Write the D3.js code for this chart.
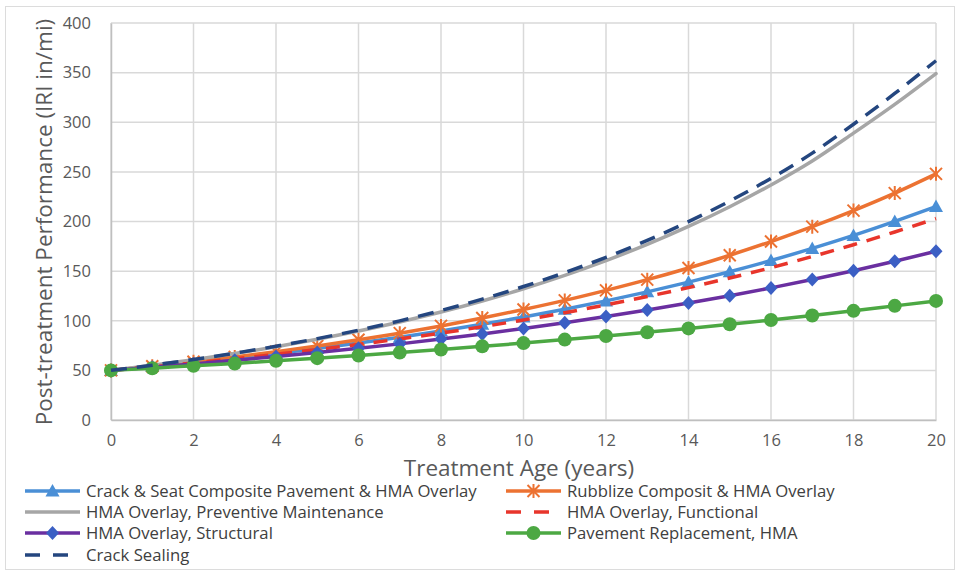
<!DOCTYPE html>
<html><head><meta charset="utf-8">
<script src="https://cdn.jsdelivr.net/npm/d3@7"></script>
<style>body{margin:0;background:#fff;}svg{display:block;font-family:"Open Sans",sans-serif;}</style>
</head><body>
<svg id="c" width="961" height="574"></svg>
<script>
const years = [0,1,2,3,4,5,6,7,8,9,10,11,12,13,14,15,16,17,18,19,20];
const xTicks = [0,2,4,6,8,10,12,14,16,18,20];
const yTicks = [0,50,100,150,200,250,300,350,400];
const crackSeat   = [50,53.8,57.9,62.2,66.9,72,77.5,83.3,89.6,96.4,103.7,111.6,120,129.1,138.9,149.4,160.7,172.9,186,200.1,215];
const rubblize    = [50,54.2,58.7,63.6,68.9,74.6,80.8,87.5,94.8,102.7,111.3,120.5,130.6,141.4,153.2,166,179.8,194.8,211,228.6,248];
const preventive  = [50,55.1,60.7,66.9,73.8,81.3,89.6,98.8,108.8,119.9,132.2,145.7,160.6,176.9,195,214.9,236.8,261,289,318,349];
const functional  = [50,53.6,57.5,61.7,66.2,71,76.1,81.7,87.6,94,100.8,108.1,116,124.4,133.4,143.1,153.5,164.7,176.6,189.4,203];
const structural  = [50,53.2,56.5,60.1,63.9,67.9,72.2,76.7,81.6,86.7,92.2,98,104.2,110.8,117.8,125.2,133.1,141.5,150.4,159.9,170];
const replacement = [50,52.2,54.6,57,59.6,62.3,65,67.9,71,74.2,77.5,81,84.6,88.4,92.3,96.5,100.8,105.3,110,115,120];
const crackSealing= [50,55.2,60.9,67.3,74.3,82,90.5,99.9,110.3,121.8,134.5,148.5,163.9,181,199.8,220.6,243.5,268.9,298,329,362];

const series = [
  {name:"Crack & Seat Composite Pavement & HMA Overlay", values:crackSeat, color:"#4a8fd6", marker:"triangle", dash:null, col:0,row:0},
  {name:"Rubblize Composit & HMA Overlay", values:rubblize, color:"#ec7232", marker:"asterisk", dash:null, col:1,row:0},
  {name:"HMA Overlay, Preventive Maintenance", values:preventive, color:"#a6a6a6", marker:null, dash:null, col:0,row:1},
  {name:"HMA Overlay, Functional", values:functional, color:"#e8352b", marker:null, dash:"14,10", col:1,row:1},
  {name:"HMA Overlay, Structural", values:structural, color:"#6a2fa0", mcolor:"#3b5fc4", marker:"diamond", dash:null, col:0,row:2},
  {name:"Pavement Replacement, HMA", values:replacement, color:"#4ca843", marker:"circle", dash:null, col:1,row:2},
  {name:"Crack Sealing", values:crackSealing, color:"#24467f", marker:null, dash:"16,10", col:0,row:3}
];

const svg = d3.select("#c");
svg.append("rect").attr("x",5.5).attr("y",6.5).attr("width",949).attr("height",563)
  .attr("fill","#fff").attr("stroke","#dcdcdc").attr("stroke-width",1);

const x = d3.scaleLinear().domain([0,20]).range([111,936]);
const y = d3.scaleLinear().domain([0,400]).range([420,23]);

// gridlines
const g = svg.append("g");
g.selectAll(".hg").data(yTicks).join("line")
  .attr("x1",x(0)).attr("x2",x(20)).attr("y1",d=>y(d)).attr("y2",d=>y(d))
  .attr("stroke","#d9d9d9").attr("stroke-width",1.5);
g.selectAll(".vg").data(xTicks).join("line")
  .attr("y1",y(0)).attr("y2",y(400)).attr("x1",d=>x(d)).attr("x2",d=>x(d))
  .attr("stroke","#d9d9d9").attr("stroke-width",1.5);

// axes
const xAxis = d3.axisBottom(x).tickValues(xTicks).tickSize(0).tickPadding(14);
const yAxis = d3.axisLeft(y).tickValues(yTicks).tickSize(0).tickPadding(20);
const ax = svg.append("g").attr("transform",`translate(0,${y(0)})`).call(xAxis);
const ay = svg.append("g").attr("transform",`translate(${x(0)},0)`).call(yAxis);
[ax,ay].forEach(a=>{
  a.select(".domain").attr("stroke","#bfbfbf").attr("stroke-width",1.5);
  a.selectAll("text").attr("fill","#595959").style("font-size","16.5px").style("font-family","'Open Sans',sans-serif");
});

// titles
svg.append("text").attr("x",519).attr("y",476).attr("text-anchor","middle")
  .attr("fill","#595959").style("font-size","22.5px").text("Treatment Age (years)");
svg.append("text").attr("transform","translate(52,222) rotate(-90)").attr("text-anchor","middle")
  .attr("fill","#595959").style("font-size","22.5px").text("Post-treatment Performance (IRI in/mi)");

const line = d3.line().x((d,i)=>x(years[i])).y(d=>y(d)).curve(d3.curveMonotoneX);

function drawMarker(sel, type, color, cx, cy){
  if(type==="triangle"){
    sel.append("path").attr("d",`M${cx},${cy-7}L${cx+7},${cy+5.5}L${cx-7},${cy+5.5}Z`).attr("fill",color);
  } else if(type==="diamond"){
    sel.append("path").attr("d",`M${cx},${cy-7}L${cx+6.5},${cy}L${cx},${cy+7}L${cx-6.5},${cy}Z`).attr("fill",color);
  } else if(type==="circle"){
    sel.append("circle").attr("cx",cx).attr("cy",cy).attr("r",7).attr("fill",color);
  } else if(type==="asterisk"){
    const r=6;
    sel.append("path").attr("d",`M${cx-r},${cy-r}L${cx+r},${cy+r}M${cx-r},${cy+r}L${cx+r},${cy-r}M${cx},${cy-r-1}L${cx},${cy+r+1}`)
      .attr("stroke",color).attr("stroke-width",2).attr("fill","none");
  }
}

const plot = svg.append("g");
series.forEach(s=>{
  const gg = plot.append("g");
  gg.append("path").datum(s.values).attr("d",line).attr("fill","none")
    .attr("stroke",s.color).attr("stroke-width",3.5)
    .attr("stroke-dasharray",s.dash).attr("stroke-linecap",s.dash?"butt":"round");
  if(s.marker){
    s.values.forEach((v,i)=>drawMarker(gg,s.marker,s.mcolor||s.color,x(years[i]),y(v)));
  }
});

// legend
const colX = [25,506];
const rowY = [491,512,533,555];
const lg = svg.append("g");
series.forEach(s=>{
  const lx = colX[s.col], ly = rowY[s.row];
  const it = lg.append("g");
  it.append("line").attr("x1",lx).attr("x2",lx+55).attr("y1",ly).attr("y2",ly)
    .attr("stroke",s.color).attr("stroke-width",3.5).attr("stroke-dasharray",s.dash?"15,13":null);
  if(s.marker) drawMarker(it,s.marker,s.mcolor||s.color,lx+27.5,ly);
  it.append("text").attr("x",lx+61).attr("y",ly+6).attr("fill","#404040")
    .style("font-size","16.7px").style("font-family","'Open Sans',sans-serif").text(s.name);
});
</script>
</body></html>
